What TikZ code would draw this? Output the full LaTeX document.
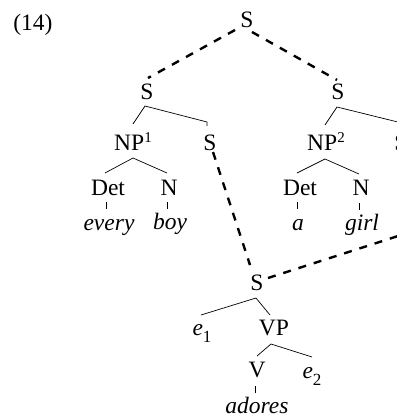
\documentclass[tikz,border=0pt]{standalone}
\usepackage{fontspec}
\setmainfont{Liberation Serif}
\newcommand\myup[1]{\raisebox{8pt}{\fontsize{15}{15}\selectfont #1}}
\newcommand\mydn[1]{\raisebox{-7pt}{\fontsize{17}{17}\selectfont #1}}
\tikzset{
  lbl/.style={anchor=base, inner sep=0pt, font=\fontsize{23.5}{27}\selectfont},
  edge/.style={line width=0.7pt},
  dashedge/.style={line width=2.4pt, dash pattern=on 8pt off 8pt}
}
\begin{document}
\begin{tikzpicture}[x=1pt,y=-1pt]
\useasboundingbox (0,0) rectangle (397,416);
\clip (0,0) rectangle (397,416);
% labels
\node[lbl] (ex) at (33,30) {(14)};
\node[lbl] (S0) at (247,27) {S};
\node[lbl] (SL) at (147,99) {S};
\node[lbl] (SR) at (338,99) {S};
\node[lbl] (NP1) at (133,150) {NP\myup{1}};
\node[lbl] (SLc) at (210,150) {S};
\node[lbl] (NP2) at (326,150) {NP\myup{2}};
\node[lbl] (SRc) at (401,150) {S};
\node[lbl] (DetL) at (108,195) {Det};
\node[lbl] (NL) at (169,195) {N};
\node[lbl] (every) at (109,230) {\textit{every}};
\node[lbl] (boy) at (170,229) {\textit{boy}};
\node[lbl] (DetR) at (300,195) {Det};
\node[lbl] (NR) at (361,195) {N};
\node[lbl] (a) at (298,230) {\textit{a}};
\node[lbl] (girl) at (362,230) {\textit{girl}};
\node[lbl] (Slow) at (257,290) {S};
\node[lbl] (e1) at (202,335) {\textit{e}\mydn{1}};
\node[lbl] (VP) at (274,335) {VP};
\node[lbl] (V) at (257,377) {V};
\node[lbl] (e2) at (312,378) {\textit{e}\mydn{2}};
\node[lbl] (adores) at (257,413) {\textit{adores}};
% attachment points
\coordinate (S0l) at (235,30);
\coordinate (S0r) at (252,32);
\coordinate (SLt) at (148,78);
\coordinate (SRt) at (337,80);
\coordinate (SLa) at (145,106);
\coordinate (NP1t) at (133,124);
\coordinate (SLck) at (207,122);
\coordinate (SLct) at (207,126);
\coordinate (SRa) at (337,107);
\coordinate (NP2t) at (325,125);
\coordinate (SRct) at (410,125);
\coordinate (NP1a) at (133,158);
\coordinate (DetLt) at (105,173);
\coordinate (NLt) at (167,173);
\coordinate (NP2a) at (325,159);
\coordinate (DetRt) at (297,173);
\coordinate (NRt) at (359,174);
\coordinate (DetLb) at (106,202);
\coordinate (everyt) at (106,209);
\coordinate (NLb) at (167,202);
\coordinate (boyt) at (167,209);
\coordinate (DetRb) at (297,202);
\coordinate (at) at (297,209);
\coordinate (NRb) at (359,203);
\coordinate (girlt) at (359,210);
\coordinate (SLcb) at (213,152);
\coordinate (Slowt) at (250,265);
\coordinate (Slowr) at (268,278);
\coordinate (far) at (460,216);
\coordinate (Slowa) at (256,298);
\coordinate (e1t) at (201,315);
\coordinate (VPt) at (270,315);
\coordinate (VPa) at (271,344);
\coordinate (Vt) at (257,356);
\coordinate (e2t) at (312,357);
\coordinate (Vb) at (255,386);
\coordinate (adorest) at (255,393);
% dashed connectors
\draw[dashedge] (S0l) -- (SLt);
\draw[dashedge] (S0r) -- (SRt);
\draw[dashedge] (SLcb) -- (Slowt);
\draw[dashedge] (Slowr) -- (far);
% solid connectors
\draw[edge] (NP1t) -- (SLa) -- (SLck) -- (SLct);
\draw[edge] (NP2t) -- (SRa) -- (SRct);
\draw[edge] (DetLt) -- (NP1a) -- (NLt);
\draw[edge] (DetRt) -- (NP2a) -- (NRt);
\draw[edge] (DetLb) -- (everyt);
\draw[edge] (NLb) -- (boyt);
\draw[edge] (DetRb) -- (at);
\draw[edge] (NRb) -- (girlt);
\draw[edge] (e1t) -- (Slowa) -- (VPt);
\draw[edge] (Vt) -- (VPa) -- (e2t);
\draw[edge] (Vb) -- (adorest);
\end{tikzpicture}
\end{document}
